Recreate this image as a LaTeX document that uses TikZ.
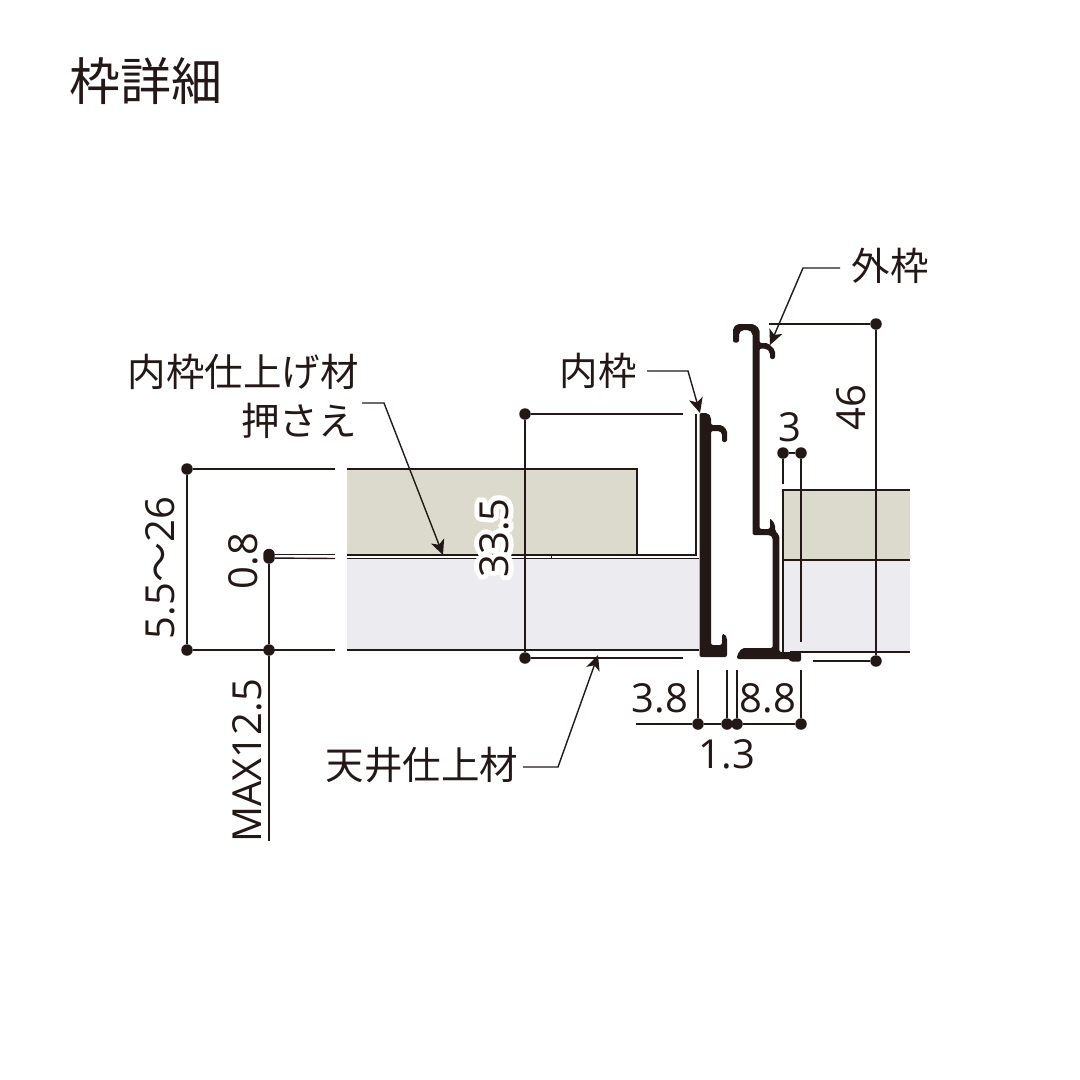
\documentclass[tikz,border=0pt]{standalone}
\usepackage{fontspec}
\usepackage[copies]{contour}
\usepackage{xcolor}
\usetikzlibrary{arrows.meta}
\setmainfont{Open Sans}
\newfontfamily\cjk{Noto Sans CJK JP}
\definecolor{inkdark}{HTML}{231815}
\definecolor{wallbeige}{HTML}{DCDACD}
\definecolor{ceilgrey}{HTML}{ECECF0}
\contourlength{5pt}
\tikzset{
    dimdot/.style = {circle,fill=inkdark,inner sep=0pt,minimum size=11.5pt},
    dimline/.style = {draw=inkdark,line width=1.4pt},
    leader/.style = {draw=inkdark,line width=1.4pt,-{Stealth[length=15pt,width=14pt,inset=4pt]}},
    jplabel/.style = {text=inkdark,inner sep=0pt,font=\cjk\fontsize{38.5pt}{40pt}\selectfont},
    dimlabel/.style = {text=inkdark,inner sep=0pt,font=\fontsize{40pt}{42pt}\selectfont},
    profile/.style = {fill=inkdark,draw=none,rounded corners=2pt},
}
\begin{document}
\begin{tikzpicture}[x=1pt,y=-1pt]
\useasboundingbox (0,0) rectangle (1080,1080);

% materials
\fill[wallbeige] (347,469) rectangle (637,555);
\fill[ceilgrey] (347,558) rectangle (699,650);
\fill[wallbeige] (783,490) rectangle (910,560);
\fill[ceilgrey] (783,560) rectangle (910,652);
\draw[dimline] (347,469) -- (637,469) -- (637,555);
\draw[dimline] (347,555) -- (696,555) -- (696,414);
\draw[dimline] (347,558.5) -- (699,558.5);
\draw[dimline] (551.5,555) -- (551.5,558.5);
\draw[dimline] (347,650) -- (699,650);
\draw[dimline] (910,490) -- (783,490) -- (783,652);
\draw[dimline] (783,560) -- (910,560);
\draw[dimline] (790,652) -- (910,652);

% inner frame
\path[profile] (699.5,413) -- (708,413) -- (711,417) -- (711,425) -- (722,425)
  -- (727,430) -- (727,442) -- (722,442) -- (722,433) -- (720,431) -- (711,431)
  -- (711,645) -- (722,645) -- (722,634) -- (725,634) -- (727,638) -- (727,657)
  -- (699.5,657) -- cycle;

% outer frame
\path[profile] (733,342.5) -- (733,328) -- (737,324) -- (754,324) -- (759.5,329)
  -- (759.5,343) -- (768,343) -- (775,350) -- (775,359) -- (770,359) -- (770,352)
  -- (766,348.5) -- (759.5,348.5) -- (759.5,529) -- (770,529) -- (770,518)
  -- (775,524) -- (775,531) -- (779.3,535) -- (779.3,652) -- (801,652) -- (801,661.5)
  -- (790,661.5) -- (790,659) -- (737,659) -- (737,655) -- (742,648) -- (772.7,648)
  -- (772.7,537) -- (770,535) -- (752.5,535) -- (752.5,333) -- (749,330) -- (742,330)
  -- (739,333) -- (739,342.5) -- cycle;

% left dimensions
\node[dimdot] (ceilTop) at (187,469) {};
\node[dimdot] (ceilBot) at (187,650) {};
\coordinate (ceilTopEnd) at (335,469);
\coordinate (ceilBotEnd) at (335,650);
\draw[dimline] (ceilTop) -- (ceilTopEnd);
\draw[dimline] (ceilBot) -- (ceilBotEnd);
\draw[dimline] (ceilTop) -- (ceilBot);

\node[dimdot] (gapA) at (269,554.5) {};
\node[dimdot] (gapB) at (269,558) {};
\node[dimdot] (gapC) at (269,650) {};
\coordinate (gapAEnd) at (335,554.5);
\coordinate (gapBEnd) at (335,558.5);
\coordinate (maxEnd) at (269,841);
\draw[dimline] (gapA) -- (gapAEnd);
\draw[dimline] (gapB) -- (gapBEnd);
\draw[dimline] (gapB) -- (gapC);
\draw[dimline] (gapC) -- (maxEnd);

\node[dimlabel,rotate=90] (rangeText) at (160,568) {5.5{\cjk ～}26};
\node[dimlabel,rotate=90] (gapText) at (243,561) {0.8};
\node[dimlabel,rotate=90] (maxText) at (247,761) {MAX12.5};

% inner frame height
\node[dimdot] (innerTop) at (525,414) {};
\node[dimdot] (innerBot) at (525,658) {};
\coordinate (innerTopEnd) at (683,414);
\coordinate (innerBotEnd) at (683,658);
\draw[dimline] (innerTop) -- (innerTopEnd);
\draw[dimline] (innerBot) -- (innerBotEnd);
\draw[dimline] (innerTop) -- (innerBot);
\node[dimlabel,rotate=90] (innerText) at (497,538) {\contour{white}{33.5}};

% outer frame height
\node[dimdot] (outerTop) at (876,324) {};
\node[dimdot] (outerBot) at (876,661) {};
\coordinate (outerTopEnd) at (769,324);
\coordinate (outerBotEnd) at (813,661);
\draw[dimline] (outerTop) -- (outerTopEnd);
\draw[dimline] (outerBot) -- (outerBotEnd);
\draw[dimline] (outerTop) -- (outerBot);
\node[dimlabel,rotate=90] (outerText) at (851,408) {46};

% gap on the right
\node[dimdot] (gapL) at (783,453) {};
\node[dimdot] (gapR) at (801,453) {};
\coordinate (gapLEnd) at (783,484);
\coordinate (gapREnd) at (801,642);
\draw[dimline] (gapL) -- (gapR);
\draw[dimline] (gapL) -- (gapLEnd);
\draw[dimline] (gapR) -- (gapREnd);
\node[dimlabel] (gapRText) at (790,427) {3};

% bottom dimensions
\node[dimdot] (botA) at (698,724) {};
\node[dimdot] (botB) at (727,724) {};
\node[dimdot] (botC) at (737,724) {};
\node[dimdot] (botD) at (801,724) {};
\coordinate (botStart) at (636,724);
\draw[dimline] (botStart) -- (botA);
\draw[dimline] (botA) -- (botB);
\draw[dimline] (botB) -- (botC);
\draw[dimline] (botC) -- (botD);
\foreach \n/\x in {botA/698,botB/727,botC/737,botD/801}{
  \coordinate (\n Up) at (\x,670);
  \draw[dimline] (\n) -- (\n Up);
}
\node[dimlabel] (textA) at (660,698) {3.8};
\node[dimlabel] (textD) at (768,698) {8.8};
\node[dimlabel] (textB) at (727,754) {1.3};

% labels
\node[jplabel,font=\cjk\fontsize{51pt}{52pt}\selectfont] (title) at (146,81) {枠詳細};
\node[jplabel] (outerLabel) at (890,266) {外枠};
\node[jplabel] (innerLabel) at (598,371) {内枠};
\node[jplabel] (finishLabel) at (243,372) {内枠仕上げ材};
\node[jplabel] (pressLabel) at (299,421) {押さえ};
\node[jplabel] (ceilLabel) at (422,765) {天井仕上材};

% leaders
\coordinate (outerTip) at (770,345);
\coordinate (innerTip) at (700,413);
\coordinate (pressTip) at (443,555);
\coordinate (ceilTip) at (598,655);
\draw[leader] (840,268) -- (803,268) -- (outerTip);
\draw[leader] (647,371) -- (688,371) -- (innerTip);
\draw[leader] (362,403) -- (384,403) -- (pressTip);
\draw[leader] (523,767) -- (558,767) -- (ceilTip);
\end{tikzpicture}
\end{document}
